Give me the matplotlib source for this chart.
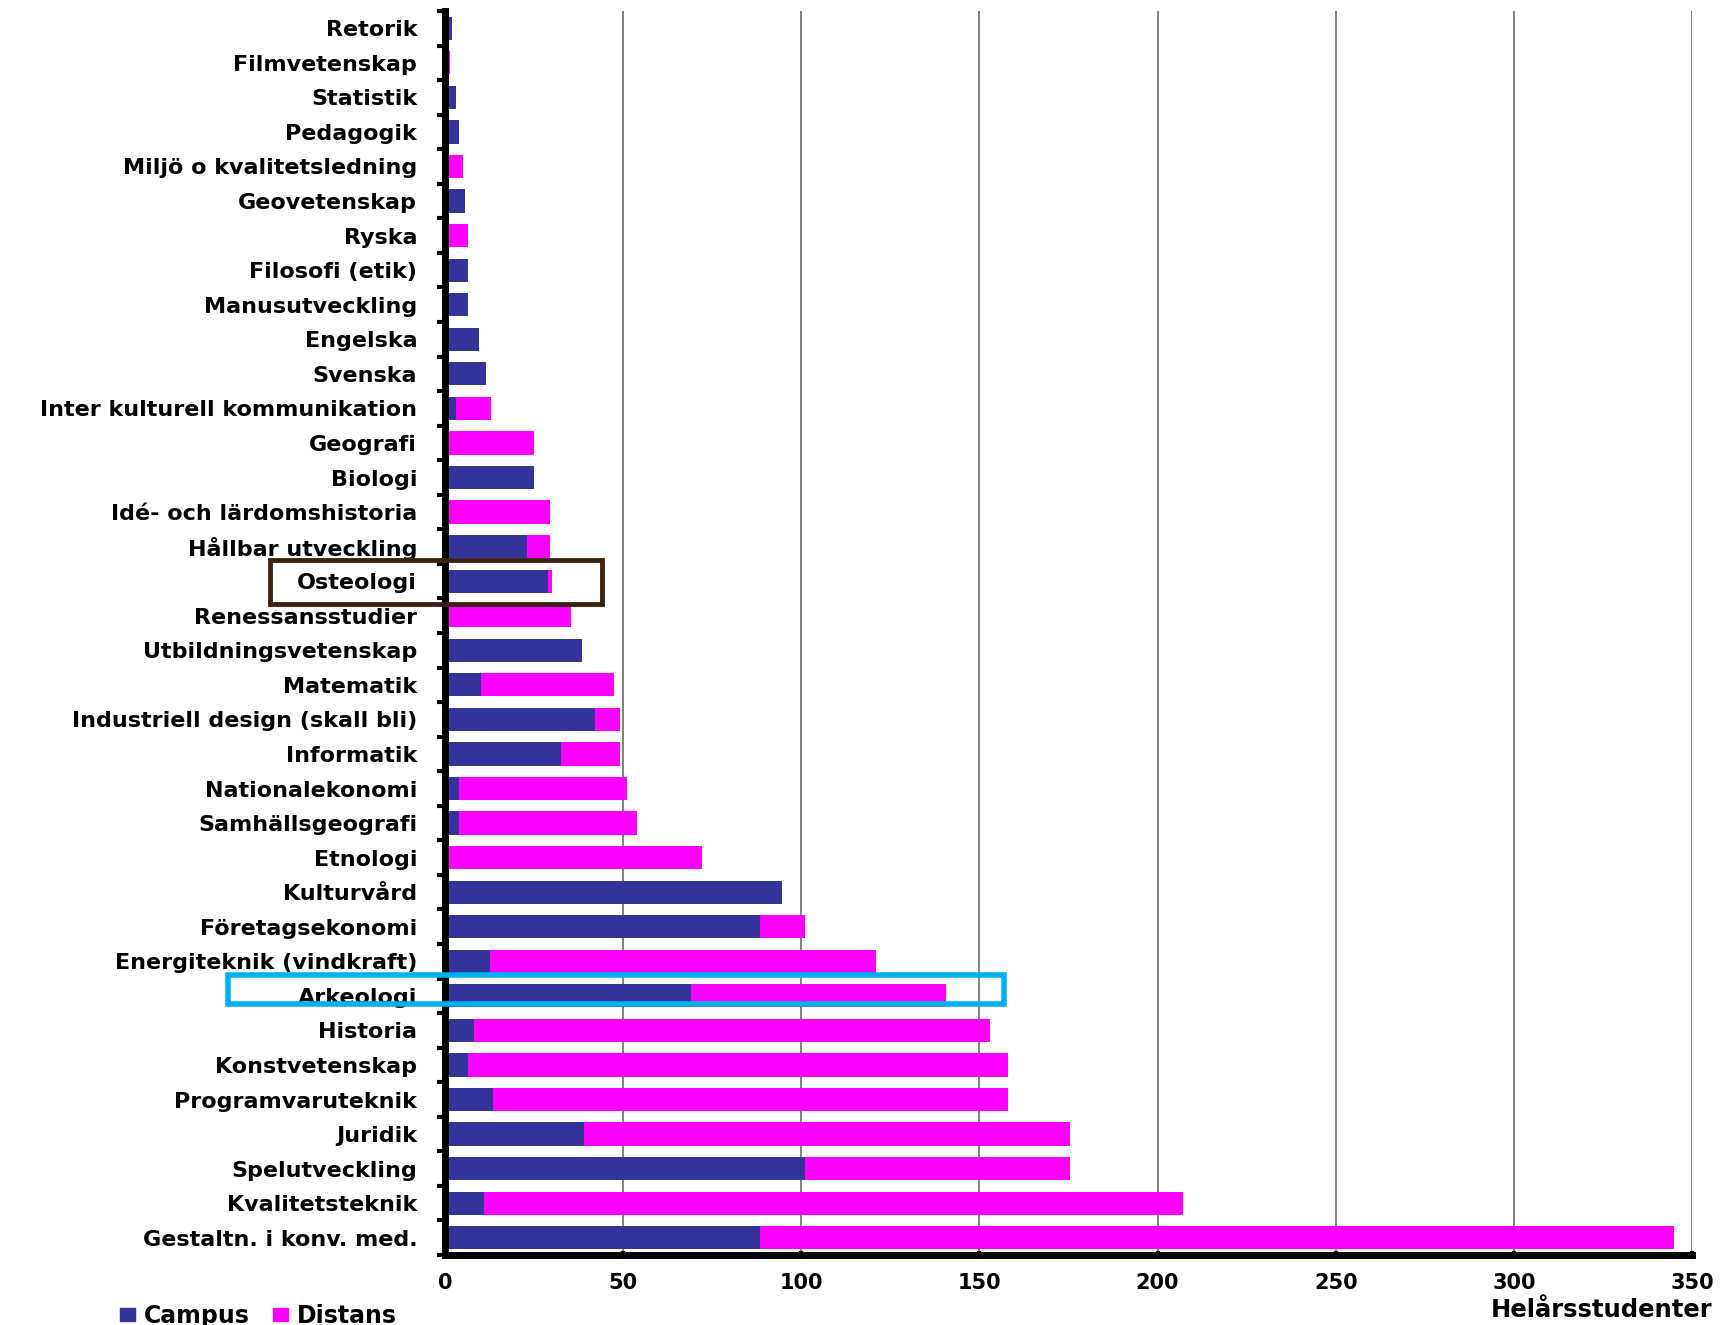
import matplotlib
matplotlib.use("Agg")
import matplotlib.pyplot as plt
from matplotlib.patches import Rectangle, Patch
import numpy as np

categories = ["Retorik", "Filmvetenskap", "Statistik", "Pedagogik",
              "Miljö o kvalitetsledning", "Geovetenskap", "Ryska",
              "Filosofi (etik)", "Manusutveckling", "Engelska", "Svenska",
              "Inter kulturell kommunikation", "Geografi", "Biologi",
              "Idé- och lärdomshistoria", "Hållbar utveckling", "Osteologi",
              "Renessansstudier", "Utbildningsvetenskap", "Matematik",
              "Industriell design (skall bli)", "Informatik", "Nationalekonomi",
              "Samhällsgeografi", "Etnologi", "Kulturvård", "Företagsekonomi",
              "Energiteknik (vindkraft)", "Arkeologi", "Historia",
              "Konstvetenskap", "Programvaruteknik", "Juridik",
              "Spelutveckling", "Kvalitetsteknik", "Gestaltn. i konv. med."]
campus = [2, 0, 3, 4, 0, 5.5, 0, 6.5, 6.5, 9.5, 11.5, 3, 0, 25, 0, 23, 29,
          0, 38.5, 10, 42, 32.5, 4, 4, 0, 94.5, 88.5, 12.5, 69, 8, 6.5,
          13.5, 39, 101, 11, 88.5]
distans = [0, 1.5, 0, 0, 5, 0, 6.5, 0, 0, 0, 0, 10, 25, 0, 29.5, 6.5, 1,
           35.5, 0, 37.5, 7, 16.5, 47, 50, 72, 0, 12.5, 108.5, 71.5, 145,
           151.5, 144.5, 136.5, 74.5, 196, 256.5]
xticks = [0, 50, 100, 150, 200, 250, 300, 350]

CAMPUS_C = "#333399"
DIST_C = "#ff00ff"

plt.rcParams['font.family'] = ['DejaVu Sans']
W, H = 1731, 1325
L, R, T, B = 445, 1692, 11, 1255
fig = plt.figure(figsize=(W / 100, H / 100), dpi=100)
ax = fig.add_axes([L / W, 1 - B / H, (R - L) / W, (B - T) / H])

y = np.arange(len(categories))
ax.barh(y, campus, height=0.67, color=CAMPUS_C, zorder=3)
ax.barh(y, distans, left=campus, height=0.67, color=DIST_C, zorder=3)

ax.set_xlim(0, 350)
ax.set_ylim(len(categories) - 0.5, -0.45)
ax.set_xticks(xticks)
ax.set_xticklabels([str(t) for t in xticks], fontsize=15, fontweight='bold')
ax.set_yticks(y)
ax.set_yticklabels(categories, fontsize=16, fontweight='bold')
ax.tick_params(axis='y', length=0, pad=20)
ax.set_yticks(np.arange(len(categories) + 1) - 0.5, minor=True)
ax.tick_params(axis='y', which='minor', length=6, width=3, direction='out')
ax.tick_params(axis='x', length=6, width=3, direction='inout', pad=10)
ax.grid(axis='x', color='#808080', linewidth=1.4, zorder=0)
for s in ['top', 'right']:
    ax.spines[s].set_visible(False)
for s in ['left', 'bottom']:
    ax.spines[s].set_linewidth(5)
    ax.spines[s].set_color('black')
    ax.spines[s].set_zorder(5)

# highlight boxes
iost = categories.index("Osteologi")
ax.add_patch(Rectangle((-49, iost - 0.62), 93, 1.28, fill=False,
                       edgecolor='#3b2314', linewidth=3.5, clip_on=False, zorder=6))
iark = categories.index("Arkeologi")
ax.add_patch(Rectangle((-61, iark - 0.6), 218, 0.84, fill=False,
                       edgecolor='#00b0f0', linewidth=4, clip_on=False, zorder=6))

handles = [Patch(color=CAMPUS_C), Patch(color=DIST_C)]
fig.legend(handles, ["Campus", "Distans"], loc='lower left',
           bbox_to_anchor=(118 / W, -0.004), ncol=2, frameon=False,
           handlelength=0.6, handleheight=0.5, handletextpad=0.4,
           columnspacing=1.0, borderpad=0.1, borderaxespad=0.0,
           prop={'weight': 'bold', 'size': 17})
fig.text(1712 / W, 3 / H, "Helårsstudenter", ha='right', va='bottom',
         fontsize=17.5, fontweight='bold')

fig.savefig("out.png", dpi=100)
